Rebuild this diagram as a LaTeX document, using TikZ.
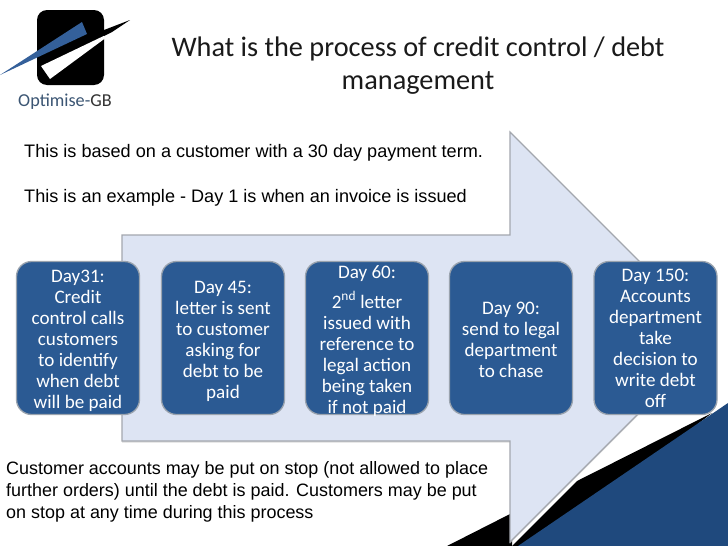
\documentclass[tikz,border=0pt]{standalone}
\usepackage{fontspec}
\setmainfont{Carlito}
\newfontfamily\arialf{Liberation Sans}
\usetikzlibrary{shadows,calc}
\definecolor{boxblue}{HTML}{2B5A93}
\definecolor{boxedge}{HTML}{9AA3AE}
\definecolor{arrowfill}{HTML}{DDE4F3}
\definecolor{arrowedge}{HTML}{A3A7AE}
\definecolor{darktri}{HTML}{1F497D}
\definecolor{logoblue}{HTML}{34609A}
\definecolor{logotext}{HTML}{3B5573}
\definecolor{titlecol}{HTML}{1A1A1A}
\tikzset{
  x=1pt,y=-1pt,
  daytext/.style={inner sep=0pt,text=white,align=center,font=\fontsize{19.1}{21}\selectfont},
  daybox/.style={daytext,draw=boxedge,line width=1.3pt,fill=boxblue,rounded corners=15pt,minimum width=123pt,minimum height=153pt},
  plain/.style={font=\arialf\fontsize{18.1}{22.2}\selectfont,align=left,anchor=north west,inner sep=0pt,text=black},
  titletext/.style={font=\fontsize{28.3}{33.5}\selectfont,align=center,inner sep=0pt,text=titlecol},
}
\begin{document}
\begin{tikzpicture}
\useasboundingbox (0,0) rectangle (728,546);
\fill[white] (0,0) rectangle (728,546);
% corner wedges
\fill[black] (447,546) -- (512,513) -- (512,546) -- cycle;
\fill[black] (512,546) -- (577,481) -- (712,413) -- (540,546) -- cycle;
\fill[darktri] (518,546) -- (728,403) -- (728,546) -- cycle;
% arrow
\coordinate (a1) at (122,235);
\coordinate (a2) at (510,235);
\coordinate (a3) at (510,132);
\coordinate (tip) at (715,337);
\coordinate (a5) at (510,542);
\coordinate (a6) at (510,441);
\coordinate (a7) at (122,441);
\fill[gray!45,opacity=.6] ($(a1)+(0,1.5)$) -- ($(a2)+(0,1.5)$) -- ($(a3)+(0,1.5)$) -- ($(tip)+(0,1.5)$) -- ($(a5)+(0,1.5)$) -- ($(a6)+(0,1.5)$) -- ($(a7)+(0,1.5)$) -- cycle;
\draw[draw=arrowedge,line width=1.1pt,fill=arrowfill] (a1) -- (a2) -- (a3) -- (tip) -- (a5) -- (a6) -- (a7) -- cycle;
% logo
\fill[black,rounded corners=10pt] (37,10) rectangle (104,85);
\fill[white] (41,66) -- (112,32) -- (130,20) -- (50,79) -- cycle;
\fill[black] (104,30) -- (130,20) -- (112,32) -- (104,36) -- cycle;
\fill[logoblue] (0,75) -- (82,22) -- (87,34) -- cycle;
\node[inner sep=0pt,font=\fontsize{18.2}{20}\selectfont] (logotext) at (65,102) {\textcolor{logotext}{Optimise-}\textcolor{black!80}{GB}};
% title
\node[titletext] (title) at (418,65.5) {What is the process of credit control / debt\\management};
% texts
\node[plain] (intro) at (24,144.5) {This is based on a customer with a 30 day payment term.\\\\This is an example - Day 1 is when an invoice is issued};
\node[plain,font=\arialf\fontsize{17.95}{22.2}\selectfont] (stop) at (6,461) {Customer accounts may be put on stop (not allowed to place\\further orders) until the debt is paid. Customers may be put\\on stop at any time during this process};
% boxes
\node[daybox] (d1) at (78,338) {\rule{0pt}{19pt}Day31:\\Credit\\control calls\\customers\\to identify\\when debt\\will be paid};
\node[daybox] (d2) at (223,338) {\rule{0pt}{19pt}Day 45:\\letter is sent\\to customer\\asking for\\debt to be\\paid};
\node[daybox] (d3) at (367,338) {};
\node[daytext] (d3text) at (d3.center) {\rule{0pt}{19pt}Day 60:\\[9pt]2\textsuperscript{nd} letter\\issued with\\reference to\\legal action\\being taken\\if not paid};
\node[daybox] (d4) at (511,338) {\rule{0pt}{15.5pt}Day 90:\\send to legal\\department\\to chase};
\node[daybox] (d5) at (655.5,338) {\rule{0pt}{14pt}Day 150:\\Accounts\\department\\take\\decision to\\write debt\\off};
\end{tikzpicture}
\end{document}
